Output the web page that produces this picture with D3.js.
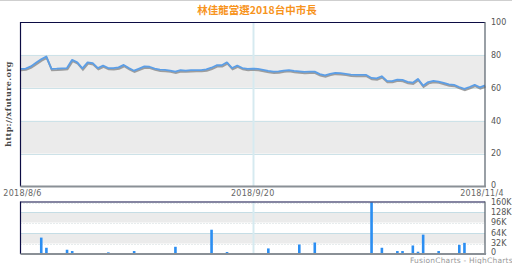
<!DOCTYPE html>
<html>
<head>
<meta charset="utf-8">
<script src="https://cdn.jsdelivr.net/npm/d3@7"></script>
<style>
  body { margin: 0; background: #fff; }
  svg { display: block; font-family: "DejaVu Sans", Verdana, sans-serif; }
</style>
</head>
<body>
<div id="chart"></div>
<script>
// Data
let title = "林佳龍當選2018台中市長";
let startDay = "2018-08-06";
let dateTicks = ["2018-08-06", "2018-09-20", "2018-11-04"];
let ratings = [
  71.5, 71.7, 73, 75.2, 77.3, 79, 71.5, 71.6, 71.8, 72,
  77, 75.5, 71.8, 75.5, 75, 72, 73.5, 72, 71.9, 72.4,
  73.9, 72, 70.4, 71.7, 73, 72.8, 71.7, 71, 70.9, 70.5,
  69.8, 70.7, 70.5, 70.7, 70.8, 70.8, 71.2, 72.2, 73.7, 73.7,
  75.5, 72, 73.5, 72, 71.5, 71.7, 71.5, 70.9, 70.3, 69.8,
  70, 70.5, 70.8, 70.3, 70, 69.7, 69.8, 69.8, 68.3, 67.6,
  68.5, 69.1, 68.9, 68.5, 68, 67.8, 67.8, 67.8, 66, 65.7,
  67, 64.2, 64.1, 65, 64.8, 63.6, 63.1, 65.4, 61.3, 63.5,
  64.2, 63.8, 63, 62.1, 61.8, 60.5, 59.3, 60.5, 61.8, 60.3,
  61.5
];
let ratingTicks = [0, 20, 40, 60, 80, 100];
let volumeDates = [
  "2018-08-09", "2018-08-10", "2018-08-11", "2018-08-15", "2018-08-16",
  "2018-08-22", "2018-08-23", "2018-08-25", "2018-08-26", "2018-08-28",
  "2018-09-05", "2018-09-12", "2018-09-13", "2018-09-15", "2018-09-23",
  "2018-09-26", "2018-09-27", "2018-09-29", "2018-10-01", "2018-10-02",
  "2018-10-07", "2018-10-13", "2018-10-15", "2018-10-18", "2018-10-19",
  "2018-10-21", "2018-10-22", "2018-10-23", "2018-10-25", "2018-10-26",
  "2018-10-27", "2018-10-30", "2018-10-31", "2018-11-02", "2018-11-04"
];
let volumes = [
  2000, 50000, 19000, 13000, 9000,
  2000, 5000, 2000, 2000, 9000,
  22000, 74000, 2000, 6000, 17000,
  2000, 2000, 29000, 3000, 35000,
  2000, 157000, 19000, 9000, 9000,
  26000, 7000, 59000, 3000, 9000,
  3000, 28000, 34000, 1000, 1000
];
let volumeTicks = [0, 32000, 64000, 96000, 128000, 160000];

let W = 512, H = 264;
let left = 20.5, right = 485;
let top1 = 22, bot1 = 186.5;
let top2 = 201.5, bot2 = 254;

let parse = d3.utcParse("%Y-%m-%d");
let t0 = parse(startDay);
let lineData = ratings.map((v, i) => ({ date: d3.utcDay.offset(t0, i), v: v }));
let barData = volumeDates.map((d, i) => ({ date: parse(d), v: volumes[i] }));

let svg = d3.select("#chart").append("svg").attr("width", W).attr("height", H);

let x = d3.scaleUtc().domain([t0, parse(dateTicks[2])]).range([left, right]);
let y = d3.scaleLinear().domain([0, 100]).range([bot1, top1]);
let y2 = d3.scaleLinear().domain([0, 160000]).range([bot2, top2]);

// thin line at very top
svg.append("line").attr("x1", 0).attr("x2", W).attr("y1", 0.5).attr("y2", 0.5)
  .attr("stroke", "#cfcfcf");

// Title
svg.append("text")
  .attr("x", 257).attr("y", 14)
  .attr("text-anchor", "middle")
  .style("font-family", "'Noto Sans CJK TC', 'DejaVu Sans', sans-serif")
  .style("font-size", "10.5px")
  .style("font-weight", "bold")
  .style("fill", "#f7941d")
  .text(title);

// ---- top chart: bands + grid
[[60, 80], [20, 40]].forEach(b => {
  svg.append("rect")
    .attr("x", left).attr("y", y(b[1]))
    .attr("width", right - left).attr("height", y(b[0]) - y(b[1]))
    .attr("fill", "#ebebeb");
});
svg.append("g")
  .selectAll("line")
  .data([20, 40, 60, 80])
  .enter()
  .append("line")
  .attr("x1", left).attr("x2", right)
  .attr("y1", d => Math.round(y(d)) + 0.5).attr("y2", d => Math.round(y(d)) + 0.5)
  .attr("stroke", "#cde2e8");

// ---- bottom chart: bands + grid
[[96000, 128000], [32000, 64000]].forEach(b => {
  svg.append("rect")
    .attr("x", left).attr("y", y2(b[1]))
    .attr("width", right - left).attr("height", y2(b[0]) - y2(b[1]))
    .attr("fill", "#ebebeb");
});
svg.append("g")
  .selectAll("line")
  .data([32000, 64000, 96000, 128000, 155000])
  .enter()
  .append("line")
  .attr("x1", left).attr("x2", right)
  .attr("y1", d => Math.round(y2(d)) + 0.5).attr("y2", d => Math.round(y2(d)) + 0.5)
  .attr("stroke", d => (d === 64000 || d === 128000) ? "#c5dde5" : "#cfd8da")
  .attr("stroke-dasharray", d => (d === 64000 || d === 128000) ? null : "1,2");

// middle date vertical line
let midX = Math.round(x(parse(dateTicks[1]))) + 0.5;
[[top1, bot1], [top2, bot2]].forEach(r => {
  svg.append("line")
    .attr("x1", midX).attr("x2", midX)
    .attr("y1", r[0]).attr("y2", r[1])
    .attr("stroke", "#d6eaf0").attr("stroke-width", 2);
});

// ---- rating line (shadow + line)
let line = d3.line().x(d => x(d.date)).y(d => y(d.v));
svg.append("path")
  .datum(lineData)
  .attr("d", line)
  .attr("transform", "translate(0.5,1.3)")
  .attr("fill", "none")
  .attr("stroke", "#8a8a8a")
  .attr("stroke-width", 2)
  .attr("opacity", 0.8);
svg.append("path")
  .datum(lineData)
  .attr("d", line)
  .attr("fill", "none")
  .attr("stroke", "#5c9ee6")
  .attr("stroke-width", 1.8)
  .attr("stroke-linejoin", "round");

// ---- volume bars
svg.append("g")
  .selectAll("rect")
  .data(barData)
  .enter()
  .append("rect")
  .attr("x", d => x(d.date) - 1.2)
  .attr("y", d => y2(d.v))
  .attr("width", 2.6)
  .attr("height", d => bot2 - y2(d.v))
  .attr("fill", "#2b8ef2");

// ---- frames
function frame(t, b) {
  svg.append("line").attr("x1", left).attr("x2", right).attr("y1", t + 0.5).attr("y2", t + 0.5)
    .attr("stroke", "#0c0c44").attr("stroke-width", 1.2);
  svg.append("line").attr("x1", left).attr("x2", left).attr("y1", t).attr("y2", b)
    .attr("stroke", "#0c0c44").attr("stroke-width", 1.2);
  svg.append("line").attr("x1", right).attr("x2", right).attr("y1", t).attr("y2", b)
    .attr("stroke", "#55606a").attr("stroke-width", 1.2);
  svg.append("line").attr("x1", left).attr("x2", right + 1).attr("y1", b).attr("y2", b)
    .attr("stroke", "#8a9096").attr("stroke-width", 2);
}
frame(top1, bot1);
frame(top2, bot2);

// ---- right axes labels
svg.append("g")
  .selectAll("text")
  .data(ratingTicks)
  .enter()
  .append("text")
  .attr("x", 491).attr("y", d => y(d) - (d === 0 ? 1 : 0))
  .attr("dy", "0.35em")
  .style("font-size", "8px")
  .style("fill", "#555")
  .text(d => d);

svg.append("g")
  .selectAll("text")
  .data(volumeTicks)
  .enter()
  .append("text")
  .attr("x", 491).attr("y", d => y2(d) - (d === 0 ? 1.5 : 0) + (d === 160000 ? 0.5 : 0))
  .attr("dy", "0.35em")
  .style("font-size", "8px")
  .style("fill", "#555")
  .text(d => d === 0 ? "0" : d / 1000 + "K");

// ---- date labels
svg.append("g")
  .selectAll("text")
  .data(dateTicks)
  .enter()
  .append("text")
  .attr("x", (d, i) => x(parse(d)) + (i === 0 ? 2 : i === 2 ? -3 : 0))
  .attr("y", 196)
  .attr("text-anchor", "middle")
  .style("font-size", "8px")
  .style("letter-spacing", "0.3px")
  .style("fill", "#666")
  .text(d => d3.utcFormat("%Y/%-m/%-d")(parse(d)));

// ---- y label
svg.append("text")
  .attr("transform", "translate(11,104) rotate(-90)")
  .attr("text-anchor", "middle")
  .style("font-family", "'DejaVu Serif', serif")
  .style("font-size", "8px")
  .style("font-weight", "bold")
  .style("letter-spacing", "0.4px")
  .style("fill", "#4a4a4a")
  .text("http://xfuture.org");

// ---- credits
svg.append("text")
  .attr("x", 410).attr("y", 263)
  .style("font-size", "7.5px")
  .style("letter-spacing", "0.2px")
  .style("fill", "#999")
  .text("FusionCharts - HighCharts");
</script>
</body>
</html>
